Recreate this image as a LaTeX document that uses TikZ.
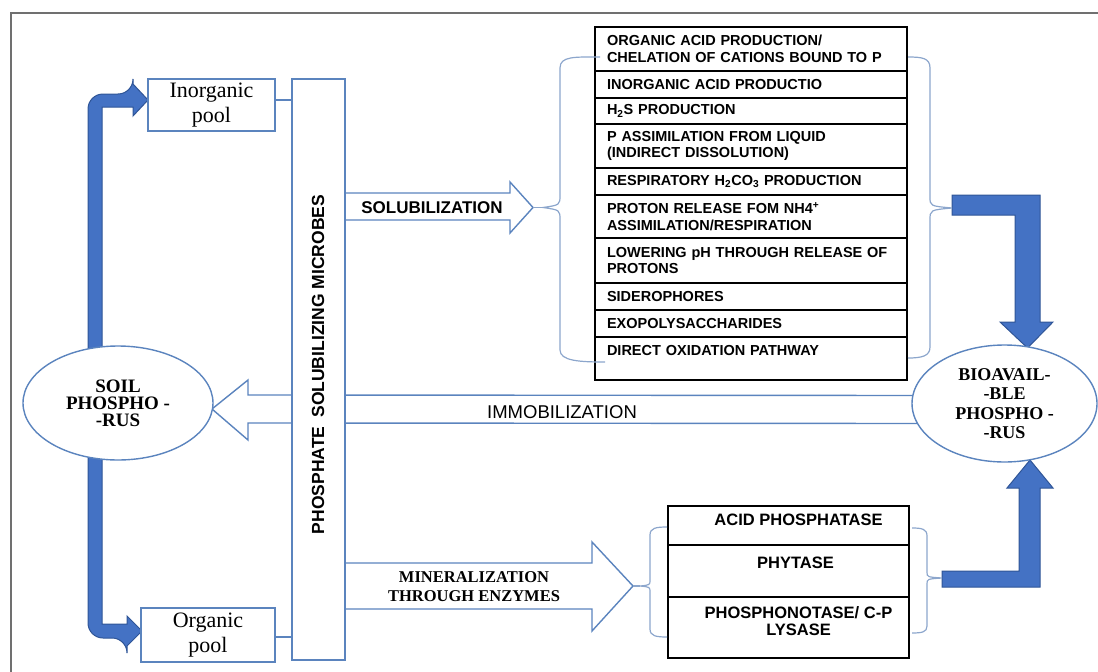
\documentclass[tikz,border=0pt]{standalone}
\usepackage{fontspec}
\setmainfont{Liberation Serif}
\newfontfamily\arialf{Liberation Sans}
\usetikzlibrary{calc,shapes.geometric}
\pgfdeclarelayer{bg}
\pgfsetlayers{bg,main}
\definecolor{bfill}{HTML}{4472C4}
\definecolor{bedge}{HTML}{2F5597}
\definecolor{bline}{HTML}{5B84BE}
\definecolor{bracec}{HTML}{8CA6CC}
\definecolor{framec}{HTML}{707070}
\begin{document}
\begin{tikzpicture}[x=1pt,y=-1pt,
  bluebox/.style={draw=bline, line width=1.4pt, fill=white, inner sep=0pt, outer sep=0pt},
  pooltext/.style={font=\fontsize{22}{25}\selectfont, align=center},
  elltext/.style={ellipse, font=\bfseries\fontsize{19}{17}\selectfont, align=center},
  trow/.style={draw=black, line width=1.2pt, minimum width=312, text width=288, inner xsep=12, inner ysep=0, outer sep=0, align=left, anchor=north west, font=\arialf\bfseries\fontsize{14.5}{16.5}\selectfont},
  erow/.style={draw=black, line width=1.2pt, minimum width=241, inner sep=0, outer sep=0, anchor=north west},
  etext/.style={font=\arialf\bfseries\fontsize{16.5}{17}\selectfont, align=center},
  harrow/.style={draw=bline, line width=1.4pt, fill=white, line join=miter},
  barrow/.style={fill=bfill, draw=bedge, line width=1pt, line join=miter},
  bracel/.style={draw=bracec, line width=1.2pt},
  conn/.style={draw=bline, line width=1.4pt}]
\useasboundingbox (0,0) rectangle (1098,672);
\draw[framec, line width=2pt] (11,672) -- (11,13) -- (1098,13);

% nodes
\node[bluebox, pooltext, minimum width=127, minimum height=52] (inorg) at (211.5,105) {Inorganic\\pool};
\node[bluebox, pooltext, minimum width=134, minimum height=54] (org) at (208,635) {Organic\\pool};
\node[bluebox, minimum width=53, minimum height=581] (psm) at (318.5,369.5) {};
\node[rotate=90, font=\arialf\bfseries\fontsize{17.5}{20}\selectfont] (psmtxt) at (318,364.5) {PHOSPHATE\hspace{0.5em}SOLUBILIZING MICROBES};
\node[bluebox, elltext, minimum width=190, minimum height=114] (soil) at (118,403) {SOIL\\PHOSPHO -\\-RUS};
\node[bluebox, elltext, font=\bfseries\fontsize{18}{19.5}\selectfont, minimum width=185, minimum height=117] (bio) at (1004.5,403.5) {BIOAVAIL-\\-BLE\\PHOSPHO -\\-RUS};

% main table
\node[trow, minimum height=44] (r1) at (595,27) {ORGANIC ACID PRODUCTION/\\CHELATION OF CATIONS BOUND TO P};
\node[trow, minimum height=27] (r2) at (r1.south west) {INORGANIC ACID PRODUCTIO};
\node[trow, minimum height=26] (r3) at (r2.south west) {H\textsubscript{2}S PRODUCTION};
\node[trow, minimum height=44] (r4) at (r3.south west) {P ASSIMILATION FROM LIQUID\\(INDIRECT DISSOLUTION)};
\node[trow, minimum height=27] (r5) at (r4.south west) {RESPIRATORY H\textsubscript{2}CO\textsubscript{3} PRODUCTION};
\node[trow, minimum height=43] (r6) at (r5.south west) {PROTON RELEASE FOM NH4\textsuperscript{+}\\ASSIMILATION/RESPIRATION};
\node[trow, minimum height=45] (r7) at (r6.south west) {LOWERING pH THROUGH RELEASE OF\\PROTONS};
\node[trow, minimum height=27] (r8) at (r7.south west) {SIDEROPHORES};
\node[trow, minimum height=27] (r9) at (r8.south west) {EXOPOLYSACCHARIDES};
\node[trow, minimum height=43] (r10) at (r9.south west) {DIRECT OXIDATION PATHWAY\\~};

% enzyme table
\node[erow, minimum height=39] (e1) at (668,506) {};
\node[erow, minimum height=52] (e2) at (e1.south west) {};
\node[erow, minimum height=61] (e3) at (e2.south west) {};
\node[etext] (t1) at ($(e1.center)+(10,-5.5)$) {ACID PHOSPHATASE};
\node[etext] (t2) at ($(e2.center)+(7,-8)$) {PHYTASE};
\node[etext] (t3) at ($(e3.center)+(10,-6.5)$) {PHOSPHONOTASE/ C-P\\LYSASE};

% arrow labels
\node[font=\arialf\bfseries\fontsize{17}{20}\selectfont] (soltxt) at (432,207.5) {SOLUBILIZATION};
\node[font=\arialf\fontsize{18.5}{20}\selectfont] (immtxt) at (562,412) {IMMOBILIZATION};
\node[font=\bfseries\fontsize{16.5}{19}\selectfont, align=center] (mintxt) at (474,587) {MINERALIZATION\\THROUGH ENZYMES};

% connectors
\draw[conn] ([yshift=5pt]inorg.east) -- ([yshift=5pt]inorg.east -| psm.west);
\draw[conn] ([yshift=-2pt]org.east) -- ([yshift=-2pt]org.east -| psm.west);

\begin{pgfonlayer}{bg}
% hollow arrows
\draw[harrow] (psm.east |- 0,193) -- (510,193) -- (510,182) -- (533,207.5) -- (510,233) -- (510,220) -- (psm.east |- 0,220);
\draw[harrow] ($(bio.west)+(20,-8)$) -- (248,395) -- (248,380) -- (212,409) -- (248,440) -- (248,423) -- ($(bio.west)+(20,20)$);
\draw[harrow] (psm.east |- 0,563) -- (592,563) -- (592,542) -- (633,586) -- (592,631) -- (592,609) -- (psm.east |- 0,609);

% blue arrows
\filldraw[barrow] (88,380) [rounded corners=15pt] -- (88,94) -- (133,94) [sharp corners] -- (133,84) -- (148,100) -- (133,116) -- (133,107) -- (102,107) [rounded corners=4pt] -- (102,380) [sharp corners] -- cycle;
\filldraw[barrow] (88,430) [rounded corners=15pt] -- (88,638) -- (127,638) [sharp corners] -- (127,646) -- (142,631) -- (127,616) -- (127,624) -- (102,624) [rounded corners=4pt] -- (102,430) [sharp corners] -- cycle;
\filldraw[barrow] (952,195) -- (1040,195) -- (1040,322) -- (1053,322) -- (1027.5,348) -- (1000,322) -- (1015,322) -- (1015,215) -- (952,215) -- cycle;
\filldraw[barrow] (942,571) -- (1019,571) -- (1019,488) -- (1007,488) -- (1030,460) -- (1053,488) -- (1040,488) -- (1040,587) -- (942,587) -- cycle;
\end{pgfonlayer}

% braces
\draw[bracel] (600,57) .. controls (575,57) and (560,56) .. (560,68) -- (560,195) .. controls (560,205) .. (543,207.5) .. controls (560,210) .. (560,220) -- (560,350) .. controls (560,361) and (580,362) .. (605,362);
\draw[bracel] (533,207.5) -- (543,207.5);
\draw[bracel] (908,57) .. controls (922,57) and (930,58) .. (930,68) -- (930,197) .. controls (930,206) .. (952,208) .. controls (930,210) .. (930,220) -- (930,347) .. controls (930,356) and (922,358) .. (908,358);
\draw[bracel] (667,527) .. controls (656,527) and (650,528) .. (650,535) -- (650,580) .. controls (650,585) .. (640,586) .. controls (650,587) .. (650,592) -- (650,629) .. controls (650,636) and (656,637) .. (667,637);
\draw[bracel] (633,586) -- (640,586);
\draw[bracel] (912,528) .. controls (922,528) and (927,529) .. (927,536) -- (927,572) .. controls (927,577) .. (942,578) .. controls (927,579) .. (927,584) -- (927,626) .. controls (927,632) and (922,633) .. (912,633);
\end{tikzpicture}
\end{document}
